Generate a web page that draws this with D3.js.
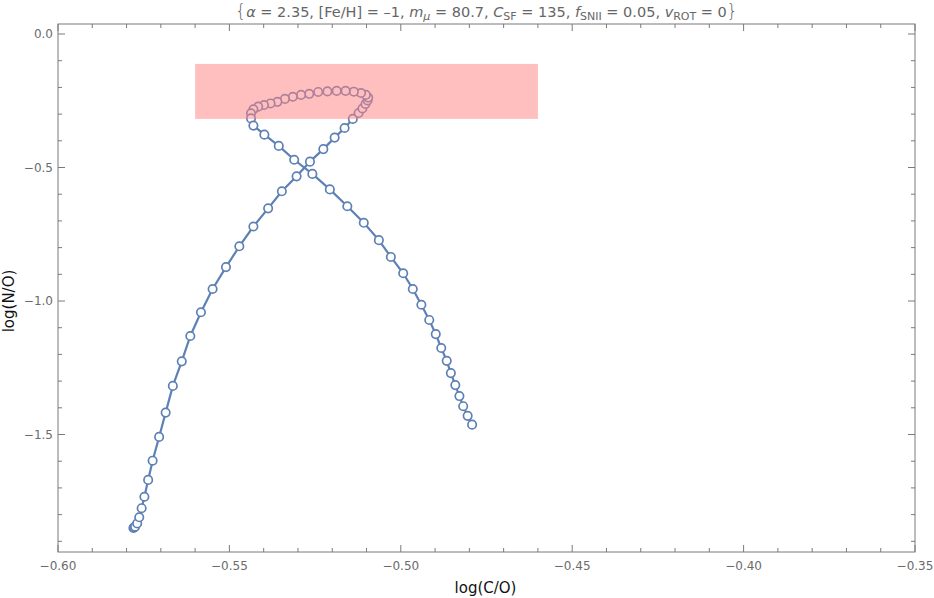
<!DOCTYPE html>
<html><head><meta charset="utf-8">
<script src="https://cdn.jsdelivr.net/npm/d3@7"></script>
<style>body{margin:0;background:#fff;} text{font-family:"DejaVu Sans",sans-serif;}</style>
</head><body>
<svg id="c" width="934" height="598"></svg>
<script>
const logCO = [-0.5780,-0.5778,-0.5775,-0.5769,-0.5763,-0.5756,-0.5748,-0.5737,-0.5724,-0.5705,-0.5686,-0.5665,-0.5639,-0.5614,-0.5583,-0.5549,-0.5510,-0.5471,-0.5430,-0.5387,-0.5347,-0.5304,-0.5265,-0.5226,-0.5193,-0.5164,-0.5140,-0.5123,-0.5112,-0.5103,-0.5097,-0.5095,-0.5102,-0.5116,-0.5137,-0.5161,-0.5187,-0.5214,-0.5241,-0.5267,-0.5291,-0.5315,-0.5338,-0.5360,-0.5380,-0.5399,-0.5416,-0.5430,-0.5437,-0.5437,-0.5430,-0.5398,-0.5356,-0.5311,-0.5258,-0.5207,-0.5156,-0.5108,-0.5064,-0.5029,-0.4993,-0.4965,-0.4940,-0.4917,-0.4898,-0.4882,-0.4866,-0.4854,-0.4841,-0.4829,-0.4818,-0.4805,-0.4792];
const logNO = [-1.850,-1.848,-1.845,-1.833,-1.810,-1.776,-1.733,-1.670,-1.598,-1.509,-1.418,-1.318,-1.226,-1.131,-1.042,-0.955,-0.873,-0.795,-0.721,-0.653,-0.589,-0.533,-0.478,-0.431,-0.388,-0.352,-0.318,-0.296,-0.279,-0.262,-0.249,-0.238,-0.228,-0.221,-0.216,-0.213,-0.213,-0.215,-0.217,-0.224,-0.228,-0.235,-0.243,-0.254,-0.260,-0.266,-0.272,-0.282,-0.297,-0.316,-0.343,-0.377,-0.419,-0.471,-0.524,-0.582,-0.645,-0.707,-0.772,-0.835,-0.896,-0.955,-1.014,-1.071,-1.124,-1.176,-1.224,-1.270,-1.315,-1.356,-1.394,-1.430,-1.463];
const boxX = [-0.56,-0.46];
const boxY = [-0.318,-0.112];
const xTicks = [-0.60,-0.55,-0.50,-0.45,-0.40,-0.35];
const xTickLabels = ["\u22120.60","\u22120.55","\u22120.50","\u22120.45","\u22120.40","\u22120.35"];
const yTicks = [0.0,-0.5,-1.0,-1.5];
const yTickLabels = ["0.0","\u22120.5","\u22121.0","\u22121.5"];

const svg = d3.select("#c");
const L=58,R=915,T=24,B=552;
const x = d3.scaleLinear().domain([-0.6,-0.35]).range([L,R]);
const y = d3.scaleLinear().domain([-1.94,0.0375]).range([B,T]);
const frameCol="#7a7a7a", labCol="#6b6b6b";

const pts = logCO.map((v,i)=>[v,logNO[i]]);
const blue="#5e81b5";
svg.append("path").attr("d",d3.line().x(d=>x(d[0])).y(d=>y(d[1]))(pts))
  .attr("fill","none").attr("stroke",blue).attr("stroke-width",2.2);
svg.selectAll("circle.p").data(pts).join("circle").attr("class","p")
  .attr("cx",d=>x(d[0])).attr("cy",d=>y(d[1])).attr("r",4.2)
  .attr("fill","#fff").attr("stroke",blue).attr("stroke-width",1.7);

svg.append("rect").attr("x",x(boxX[0])).attr("y",y(boxY[1]))
  .attr("width",x(boxX[1])-x(boxX[0])).attr("height",y(boxY[0])-y(boxY[1]))
  .attr("fill","rgb(255,128,128)").attr("fill-opacity",0.5);

svg.append("rect").attr("x",L).attr("y",T).attr("width",R-L).attr("height",B-T)
  .attr("fill","none").attr("stroke",frameCol).attr("stroke-width",1);

const xMinor = d3.range(0,26).map(i=>-0.6+i*0.01);
xMinor.forEach((v,i)=>{
  const major = i%5===0; const len = major?7:4;
  [[B,-1],[T,1]].forEach(([yy,dir])=>{
    svg.append("line").attr("x1",x(v)).attr("x2",x(v)).attr("y1",yy).attr("y2",yy+dir*len)
      .attr("stroke",frameCol).attr("stroke-width",1);
  });
});
xTicks.forEach((v,i)=>{
  svg.append("text").attr("x",x(v)).attr("y",B+18).attr("text-anchor","middle")
    .attr("font-size",12).attr("fill",labCol).text(xTickLabels[i]);
});
const yMinor = d3.range(0,20).map(i=>-i*0.1);
yMinor.forEach((v,i)=>{
  const major = i%5===0; const len = major?7:4;
  [[L,1],[R,-1]].forEach(([xx,dir])=>{
    svg.append("line").attr("x1",xx).attr("x2",xx+dir*len).attr("y1",y(v)).attr("y2",y(v))
      .attr("stroke",frameCol).attr("stroke-width",1);
  });
});
yTicks.forEach((v,i)=>{
  svg.append("text").attr("x",L-5).attr("y",y(v)+4).attr("text-anchor","end")
    .attr("font-size",12).attr("fill",labCol).text(yTickLabels[i]);
});

svg.append("text").attr("x",(L+R)/2-1).attr("y",593).attr("text-anchor","middle")
  .attr("font-size",15).attr("fill","#111").text("log(C/O)");
svg.append("text").attr("transform",`translate(14,${(T+B)/2+13}) rotate(-90)`).attr("text-anchor","middle")
  .attr("font-size",15).attr("fill","#111").text("log(N/O)");

const t = svg.append("text").attr("x",(L+R)/2).attr("y",17).attr("text-anchor","middle")
  .attr("font-size",14.5).attr("fill","#666");
const parts = [
  ["{","b"],["\u03b1","i"],[" = 2.35, [Fe/H] = \u20131, ",""],["m","i"],["\u03bc","is"],[" = 80.7, ",""],
  ["C","i"],["SF","s"],[" = 135, ",""],["f","i"],["SNII","s"],[" = 0.05, ",""],["v","i"],["ROT","s"],[" = 0",""],["}","b"]
];
parts.forEach(([s,f])=>{
  const sp = t.append("tspan").text(s);
  if(f.includes("i")) sp.attr("font-style","italic");
  if(f.includes("s")) sp.attr("font-size",11).attr("baseline-shift","-25%");
  if(f.includes("b")) sp.attr("font-size",17).attr("font-weight",300);
});
</script>
</body></html>
